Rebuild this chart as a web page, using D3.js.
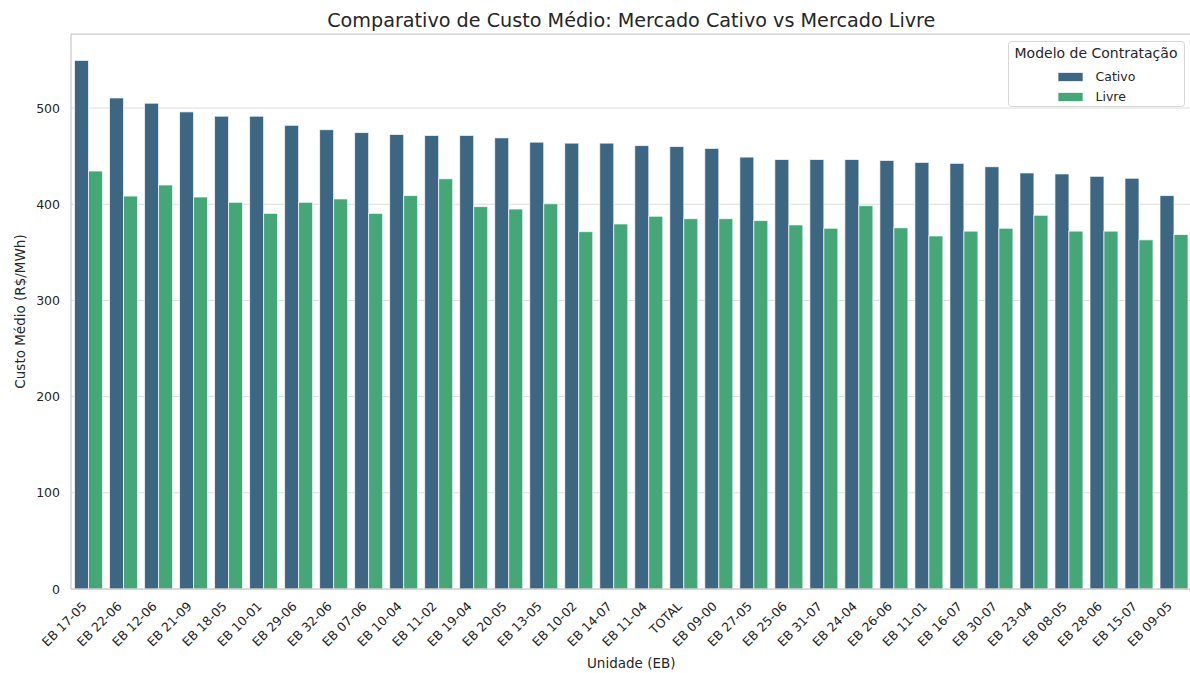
<!DOCTYPE html>
<html>
<head>
<meta charset="utf-8">
<script src="https://cdn.jsdelivr.net/npm/d3@7"></script>
<style>
  html, body { margin: 0; padding: 0; background: #fff; }
  svg { display: block; font-family: "DejaVu Sans", sans-serif; }
</style>
</head>
<body>
<svg id="chart" width="1190" height="673"></svg>
<script>
const categories = ["EB 17-05","EB 22-06","EB 12-06","EB 21-09","EB 18-05","EB 10-01","EB 29-06","EB 32-06","EB 07-06","EB 10-04","EB 11-02","EB 19-04","EB 20-05","EB 13-05","EB 10-02","EB 14-07","EB 11-04","TOTAL","EB 09-00","EB 27-05","EB 25-06","EB 31-07","EB 24-04","EB 26-06","EB 11-01","EB 16-07","EB 30-07","EB 23-04","EB 08-05","EB 28-06","EB 15-07","EB 09-05"];
const cativo = [549.5, 510.5, 505, 496, 491.5, 491.5, 482, 477.5, 474.5, 472.5, 471.5, 471.5, 469, 464.5, 463.5, 463.5, 461, 460, 458, 449, 446.5, 446.5, 446.5, 445.5, 443.5, 442.5, 439, 432.5, 431.5, 429, 427, 409];
const livre = [434.5, 408.5, 420, 407.5, 402, 390.5, 402, 405.5, 390.5, 409, 426.5, 397.5, 395, 400.5, 371.5, 379.5, 387.5, 385, 385, 383, 378.5, 375, 398.5, 375.5, 367, 372, 375, 388.5, 372, 372, 363, 368.5];
const seriesNames = ["Cativo", "Livre"];
const seriesColors = ["#3d6682", "#45a778"];
const yTicks = [0, 100, 200, 300, 400, 500];

(function () {
const svg = d3.select("#chart");
const mLeft = 71, mRight = 1191.5, mTop = 34, mBottom = 589;
const textColor = "#262626";

const x = d3.scaleBand().domain(categories).range([mLeft, mRight]).paddingInner(0).paddingOuter(0);
const xSub = d3.scaleBand().domain(seriesNames).range([x.bandwidth() * 0.1, x.bandwidth() * 0.9]).padding(0);
const yMax = d3.max(cativo.concat(livre)) * 1.05;
const y = d3.scaleLinear().domain([0, yMax]).range([mBottom, mTop]);

// grid
svg.append("g").selectAll("line").data(yTicks).join("line")
  .attr("x1", mLeft).attr("x2", mRight)
  .attr("y1", d => y(d)).attr("y2", d => y(d))
  .attr("stroke", "#dcdcdc").attr("stroke-width", 1);

// bars
const rows = categories.map((c, i) => ({ cat: c, values: [cativo[i], livre[i]] }));
const g = svg.append("g");
rows.forEach(r => {
  seriesNames.forEach((s, j) => {
    g.append("rect")
      .attr("x", x(r.cat) + xSub(s))
      .attr("y", y(r.values[j]))
      .attr("width", xSub.bandwidth())
      .attr("height", y(0) - y(r.values[j]))
      .attr("fill", seriesColors[j])
      .attr("stroke", "#ffffff")
      .attr("stroke-opacity", 0.7)
      .attr("stroke-width", 1);
  });
});

// spines
const spine = "#cccccc";
svg.append("line").attr("x1", mLeft).attr("x2", mLeft).attr("y1", mTop).attr("y2", mBottom).attr("stroke", spine).attr("stroke-width", 1.25);
svg.append("line").attr("x1", mLeft).attr("x2", mRight).attr("y1", mTop).attr("y2", mTop).attr("stroke", spine).attr("stroke-width", 1.25);
svg.append("line").attr("x1", mLeft).attr("x2", mRight).attr("y1", mBottom).attr("y2", mBottom).attr("stroke", spine).attr("stroke-width", 1.25);
svg.append("line").attr("x1", mRight).attr("x2", mRight).attr("y1", mTop).attr("y2", mBottom).attr("stroke", spine).attr("stroke-width", 1.25);

// y axis labels
const yAxis = d3.axisLeft(y).tickValues(yTicks).tickSize(0).tickPadding(11).tickFormat(d3.format("d"));
const yg = svg.append("g").attr("transform", `translate(${mLeft},0)`).call(yAxis);
yg.select(".domain").remove();
yg.selectAll("text").attr("fill", textColor).style("font-size", "12.5px").style("font-family", "DejaVu Sans");

// x axis labels
const xAxis = d3.axisBottom(x).tickSize(0).tickPadding(0);
const xg = svg.append("g").attr("transform", `translate(0,${mBottom})`).call(xAxis);
xg.select(".domain").remove();
xg.selectAll(".tick text")
  .attr("fill", textColor)
  .style("font-size", "12.5px").style("font-family", "DejaVu Sans")
  .attr("text-anchor", "end")
  .attr("dy", null)
  .attr("y", 0)
  .attr("transform", "translate(-1,18) rotate(-45)");

// axis titles
svg.append("text").attr("x", (mLeft + mRight) / 2).attr("y", 668)
  .attr("text-anchor", "middle").attr("fill", textColor).style("font-size", "13.5px")
  .text("Unidade (EB)");
svg.append("text").attr("transform", `translate(25,${(mTop + mBottom) / 2}) rotate(-90)`)
  .attr("text-anchor", "middle").attr("fill", textColor).style("font-size", "13.5px")
  .text("Custo Médio (R$/MWh)");

// title
svg.append("text").attr("x", (mLeft + mRight) / 2).attr("y", 27)
  .attr("text-anchor", "middle").attr("fill", textColor).style("font-size", "19.2px")
  .text("Comparativo de Custo Médio: Mercado Cativo vs Mercado Livre");

// legend
const lg = svg.append("g");
lg.append("rect").attr("x", 1008.5).attr("y", 41.5).attr("width", 176).attr("height", 65).attr("rx", 3)
  .attr("fill", "#ffffff").attr("fill-opacity", 0.85).attr("stroke", "#d6d6d6").attr("stroke-width", 1);
lg.append("text").attr("x", 1096).attr("y", 58).attr("text-anchor", "middle").attr("fill", textColor)
  .style("font-size", "14px").text("Modelo de Contratação");
seriesNames.forEach((s, j) => {
  lg.append("rect").attr("x", 1058).attr("y", 72.5 + j * 20).attr("width", 25).attr("height", 9)
    .attr("fill", seriesColors[j]).attr("stroke", "#fff").attr("stroke-opacity", 0.7);
  lg.append("text").attr("x", 1095.5).attr("y", 81 + j * 20).attr("fill", textColor)
    .style("font-size", "12.5px").text(s);
});
})();
</script>
</body>
</html>
